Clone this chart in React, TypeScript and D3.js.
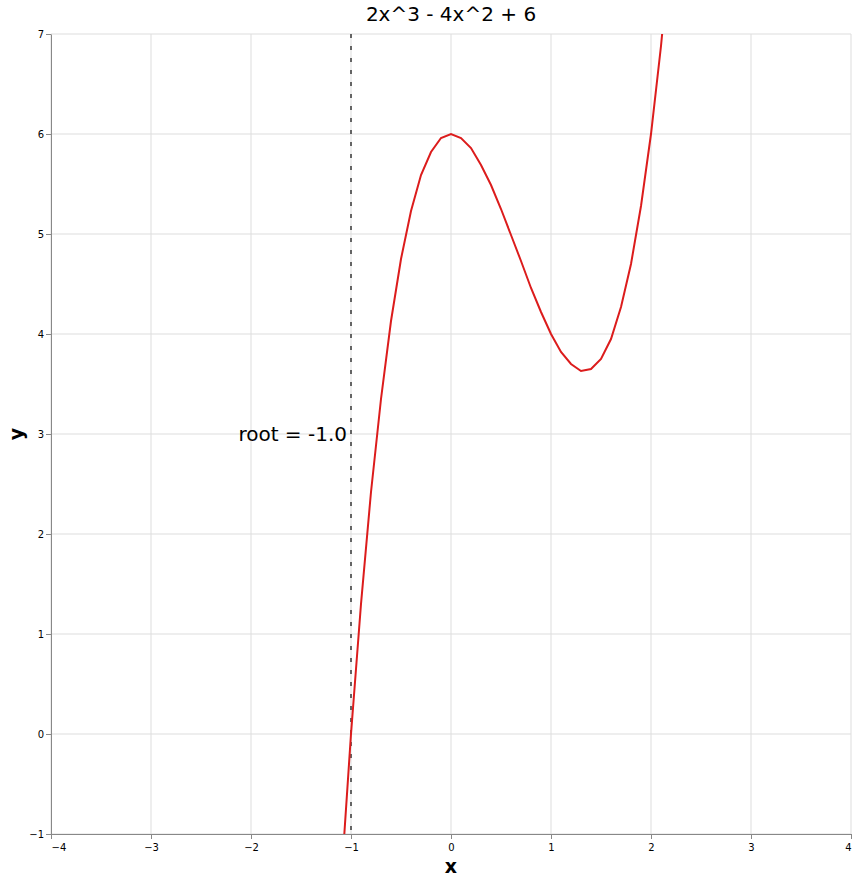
//@ts-nocheck
import React, { useEffect, useRef } from "react";
import * as d3 from "d3";

const xValues = [
  -1.1, -1.0, -0.9, -0.8, -0.7, -0.6, -0.5, -0.4, -0.3, -0.2, -0.1, 0.0,
  0.1, 0.2, 0.3, 0.4, 0.5, 0.6, 0.7, 0.8, 0.9, 1.0, 1.1, 1.2, 1.3, 1.4,
  1.5, 1.6, 1.7, 1.8, 1.9, 2.0, 2.1, 2.2,
];
const yValues = [
  -1.5, 0.0, 1.3, 2.42, 3.35, 4.13, 4.75, 5.23, 5.59, 5.82, 5.96, 6.0,
  5.96, 5.86, 5.69, 5.49, 5.25, 4.99, 4.73, 4.46, 4.22, 4.0, 3.82, 3.7,
  3.63, 3.65, 3.75, 3.95, 4.27, 4.7, 5.28, 6.0, 6.88, 7.94,
];
const xTicks = [-4, -3, -2, -1, 0, 1, 2, 3, 4];
const yTicks = [-1, 0, 1, 2, 3, 4, 5, 6, 7];
const rootX = -1.0;
const rootLabel = "root = -1.0";
const title = "2x^3 - 4x^2 + 6";

const W = 857;
const H = 880;
const margin = { left: 51, right: 6, top: 34, bottom: 46 };

export default function App() {
  const ref = useRef<SVGSVGElement>(null);

  useEffect(() => {
    document.body.style.margin = "0";
    const svg = d3.select(ref.current);
    svg.selectAll("*").remove();

    const x = d3.scaleLinear().domain([-4, 4]).range([margin.left, W - margin.right]);
    const y = d3.scaleLinear().domain([-1, 7]).range([H - margin.bottom, margin.top]);
    const font = "DejaVu Sans, sans-serif";

    svg.append("defs").append("clipPath").attr("id", "plot")
      .append("rect")
      .attr("x", x(-4)).attr("y", y(7))
      .attr("width", x(4) - x(-4)).attr("height", y(-1) - y(7));

    // grid
    const grid = svg.append("g");
    grid.selectAll("line.gx").data(xTicks).join("line")
      .attr("x1", (d) => x(d)).attr("x2", (d) => x(d))
      .attr("y1", y(-1)).attr("y2", y(7))
      .attr("stroke", "#ddd").attr("stroke-width", 1);
    grid.selectAll("line.gy").data(yTicks).join("line")
      .attr("class", "gy")
      .attr("x1", x(-4)).attr("x2", x(4))
      .attr("y1", (d) => y(d)).attr("y2", (d) => y(d))
      .attr("stroke", "#ddd").attr("stroke-width", 1);

    // axes
    const xAxis = svg.append("g")
      .attr("transform", `translate(0,${y(-1)})`)
      .call(d3.axisBottom(x).tickValues(xTicks).tickSize(5).tickSizeOuter(0).tickFormat(d3.format("d")));
    const yAxis = svg.append("g")
      .attr("transform", `translate(${x(-4)},0)`)
      .call(d3.axisLeft(y).tickValues(yTicks).tickSize(5).tickSizeOuter(0).tickFormat(d3.format("d")));
    [xAxis, yAxis].forEach((a) => {
      a.select(".domain").attr("stroke", "#888");
      a.selectAll(".tick line").attr("stroke", "#888");
      a.selectAll("text").attr("font-family", font).attr("font-size", 10).attr("fill", "#000");
    });
    xAxis.selectAll(".tick text").attr("dy", "0.9em")
      .attr("text-anchor", (d) => (d === -4 ? "start" : d === 4 ? "end" : "middle"));
    yAxis.selectAll(".tick text").attr("x", -7);

    // root marker
    svg.append("line")
      .attr("x1", x(rootX)).attr("x2", x(rootX))
      .attr("y1", y(7)).attr("y2", y(-1))
      .attr("stroke", "#555").attr("stroke-width", 1.8)
      .attr("stroke-dasharray", "4,8");
    svg.append("text")
      .attr("x", x(rootX) - 4).attr("y", y(3))
      .attr("dy", "0.35em")
      .attr("text-anchor", "end")
      .attr("font-family", font).attr("font-size", 20)
      .text(rootLabel);

    // curve
    const pts = xValues.map((v, i) => [v, yValues[i]]);
    svg.append("path")
      .datum(pts)
      .attr("clip-path", "url(#plot)")
      .attr("fill", "none")
      .attr("stroke", "#dc1c1c")
      .attr("stroke-width", 2)
      .attr("d", d3.line().x((d) => x(d[0])).y((d) => y(d[1])));

    // titles
    svg.append("text")
      .attr("x", (x(-4) + x(4)) / 2).attr("y", 21)
      .attr("text-anchor", "middle")
      .attr("font-family", font).attr("font-size", 20)
      .text(title);
    svg.append("text")
      .attr("x", (x(-4) + x(4)) / 2).attr("y", 873)
      .attr("text-anchor", "middle")
      .attr("font-family", font).attr("font-size", 19).attr("font-weight", "bold")
      .text("x");
    svg.append("text")
      .attr("transform", `translate(23,${(y(-1) + y(7)) / 2}) rotate(-90)`)
      .attr("text-anchor", "middle")
      .attr("font-family", font).attr("font-size", 19).attr("font-weight", "bold")
      .text("y");
  }, []);

  return <svg ref={ref} width={W} height={H} style={{ display: "block", background: "#fff" }} />;
}
